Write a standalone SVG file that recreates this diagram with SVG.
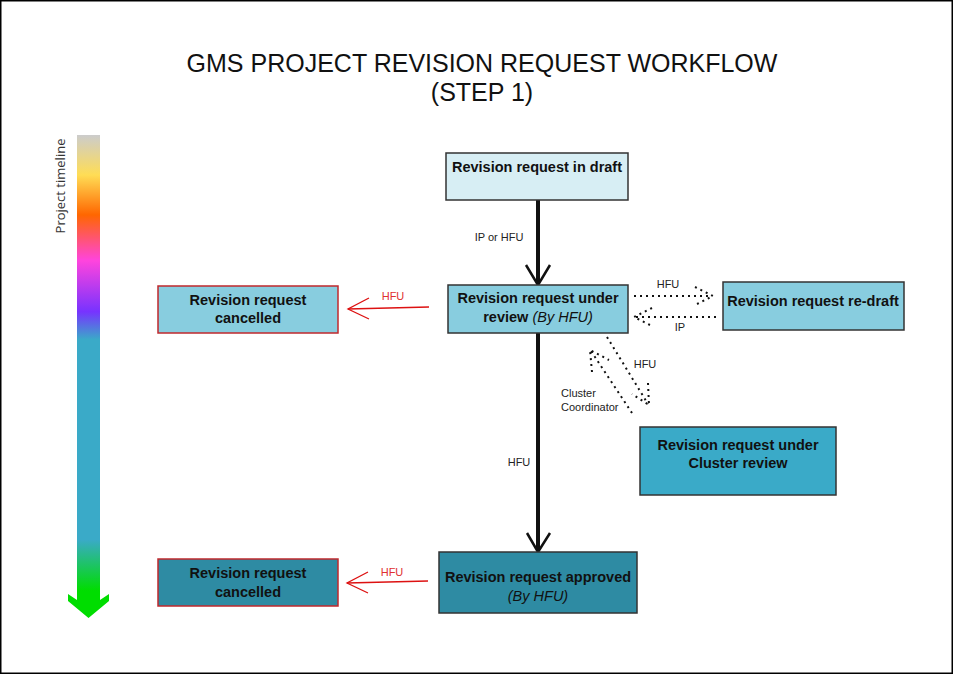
<svg xmlns="http://www.w3.org/2000/svg" width="953" height="674" viewBox="0 0 953 674">
<style>
.t{font-family:"Liberation Sans",Arial,sans-serif;font-weight:bold;font-size:14.5px;fill:#111;text-anchor:middle}
.it{font-weight:normal;font-style:italic}
.lbl{font-family:"Liberation Sans",Arial,sans-serif;font-size:11px;fill:#222}
.red{fill:#e03030}
.box{stroke:#333;stroke-width:1.5}
.rbox{stroke:#c0282d;stroke-width:1.5}
.thick{stroke:#111;stroke-width:4;fill:none}
.head{stroke:#111;stroke-width:2.5;fill:none;stroke-linejoin:miter}
.rl{stroke:#dd1111;stroke-width:1.3;fill:none}
.dot{stroke:#111;stroke-width:2;stroke-dasharray:2 4;fill:none}
</style>
<defs>
<linearGradient id="tl" gradientUnits="userSpaceOnUse" x1="0" y1="135" x2="0" y2="600">
<stop offset="0" stop-color="#cccccc"/>
<stop offset="0.086" stop-color="#ffdd55"/>
<stop offset="0.172" stop-color="#ff6600"/>
<stop offset="0.27" stop-color="#ff44dd"/>
<stop offset="0.38" stop-color="#7733ff"/>
<stop offset="0.44" stop-color="#3aaac8"/>
<stop offset="0.87" stop-color="#3aaac8"/>
<stop offset="0.98" stop-color="#00dd00"/>
</linearGradient>
</defs>
<rect x="0.75" y="0.75" width="951.5" height="672.5" fill="#fff" stroke="#000" stroke-width="1.5"/>
<g id="title">
<text x="482" y="72" font-family="Liberation Sans,Arial,sans-serif" font-size="25" text-anchor="middle" fill="#111">GMS PROJECT REVISION REQUEST WORKFLOW</text>
<text x="482" y="101" font-family="Liberation Sans,Arial,sans-serif" font-size="25" text-anchor="middle" fill="#111">(STEP 1)</text>
</g>
<g id="timeline">
<rect x="77" y="135" width="23" height="466" fill="url(#tl)"/>
<polygon points="77,600 68,594 68,601 88.5,618 109,601 109,594 100,600" fill="#00dd00"/>
<text transform="translate(65,186) rotate(-90)" font-family="Open Sans,sans-serif" font-size="13" text-anchor="middle" fill="#333">Project timeline</text>
</g>
<g id="connectors">
<line class="thick" x1="538" y1="200" x2="538" y2="283"/>
<polyline class="head" points="526,265 538,285 550,265"/>
<text class="lbl" x="499" y="241" text-anchor="middle">IP or HFU</text>
<line class="thick" x1="538" y1="333" x2="538" y2="550"/>
<polyline class="head" points="527,533 538,552 550,533"/>
<text class="lbl" x="519" y="466" text-anchor="middle">HFU</text>
<line class="rl" x1="429" y1="307" x2="348" y2="309"/>
<polyline class="rl" points="369,298 348,309 369,319"/>
<text class="lbl red" x="393" y="300" text-anchor="middle">HFU</text>
<line class="rl" x1="428" y1="581" x2="347" y2="583"/>
<polyline class="rl" points="368,572 347,583 368,593"/>
<text class="lbl red" x="392" y="576" text-anchor="middle">HFU</text>
<line class="dot" x1="634" y1="296" x2="712" y2="296"/>
<polyline class="dot" points="695,287 713,296 695,305"/>
<text class="lbl" x="668" y="288" text-anchor="middle">HFU</text>
<line class="dot" x1="716" y1="317" x2="636" y2="317"/>
<polyline class="dot" points="652,308 634,317 652,326"/>
<text class="lbl" x="680" y="331" text-anchor="middle">IP</text>
<line class="dot" x1="607" y1="337" x2="648" y2="404"/>
<polyline class="dot" points="648,383 649,405 632,394"/>
<text class="lbl" x="645" y="368" text-anchor="middle">HFU</text>
<line class="dot" x1="632" y1="413" x2="591" y2="351"/>
<polyline class="dot" points="592,372 590,350 609,360"/>
<text class="lbl" x="561" y="397">Cluster</text>
<text class="lbl" x="561" y="411">Coordinator</text>
</g>
<g id="draft">
<rect class="box" x="446" y="153" width="182" height="47" fill="#d7eef4"/>
<text class="t" x="537" y="172">Revision request in draft</text>
</g>
<g id="review">
<rect class="box" x="448" y="285" width="180" height="48" fill="#88cddf"/>
<text class="t" x="538" y="303">Revision request under</text>
<text class="t" x="538" y="322">review <tspan class="it">(By HFU)</tspan></text>
</g>
<g id="redraft">
<rect class="box" x="723" y="282" width="181" height="48" fill="#88cddf"/>
<text class="t" x="813" y="306">Revision request re-draft</text>
</g>
<g id="cancelled1">
<rect class="rbox" x="158" y="286" width="180" height="47" fill="#88cddf"/>
<text class="t" x="248" y="305">Revision request</text>
<text class="t" x="248" y="323">cancelled</text>
</g>
<g id="cluster">
<rect class="box" x="640" y="427" width="196" height="68" fill="#3aaac8"/>
<text class="t" x="738" y="450">Revision request under</text>
<text class="t" x="738" y="468">Cluster review</text>
</g>
<g id="approved">
<rect class="box" x="439" y="552" width="198" height="61" fill="#2e8ba3"/>
<text class="t" x="538" y="582">Revision request approved</text>
<text class="t it" x="538" y="601">(By HFU)</text>
</g>
<g id="cancelled2">
<rect class="rbox" x="158" y="559" width="180" height="47" fill="#2e8ba3"/>
<text class="t" x="248" y="578">Revision request</text>
<text class="t" x="248" y="597">cancelled</text>
</g>
</svg>
